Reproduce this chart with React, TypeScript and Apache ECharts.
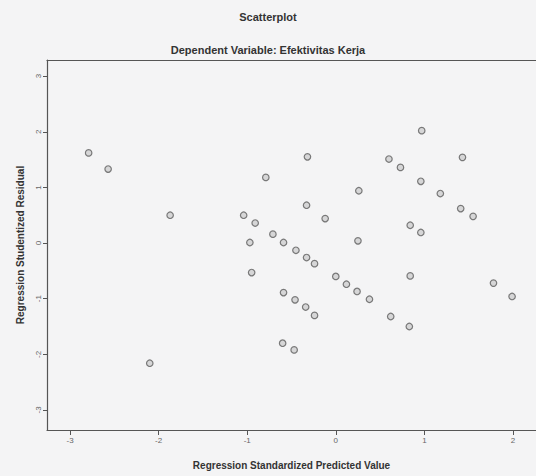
import React, { useEffect, useRef } from "react";
import * as echarts from "echarts";

const xValues = [
  -2.79, -2.57, -1.87, -2.10, -1.04, -0.91, -0.79, -0.71, -0.97, -0.95,
  -0.59, -0.45, -0.33, -0.24, -0.33, -0.32, -0.12, 0.26, 0.25, 0.0,
  0.12, 0.24, 0.38, -0.59, -0.46, -0.34, -0.24, -0.60, -0.47, 0.97,
  0.60, 0.73, 1.43, 0.96, 1.18, 1.41, 1.55, 0.84, 0.96, 0.84,
  1.78, 1.99, 0.62, 0.83,
];
const yValues = [
  1.62, 1.33, 0.50, -2.16, 0.50, 0.36, 1.18, 0.16, 0.01, -0.53,
  0.01, -0.13, -0.26, -0.37, 0.68, 1.55, 0.44, 0.94, 0.04, -0.60,
  -0.74, -0.87, -1.01, -0.89, -1.02, -1.15, -1.30, -1.80, -1.92, 2.02,
  1.51, 1.36, 1.54, 1.11, 0.89, 0.62, 0.48, 0.32, 0.19, -0.59,
  -0.72, -0.96, -1.32, -1.50,
];
const xTicks = [-3, -2, -1, 0, 1, 2];
const yTicks = [-3, -2, -1, 0, 1, 2, 3];

const titleText = "Scatterplot";
const subtitleText = "Dependent Variable: Efektivitas Kerja";
const xName = "Regression Standardized Predicted Value";
const yName = "Regression Studentized Residual";

export default function App() {
  const ref = useRef<HTMLDivElement>(null);
  useEffect(() => {
    document.body.style.margin = "0";
    const chart = echarts.init(ref.current!, undefined, { renderer: "svg" });
    const font = "'Liberation Sans', Arial, sans-serif";
    const data = xValues.map((x, i) => [x, yValues[i]]);
    chart.setOption({
      animation: false,
      backgroundColor: "#f4f4f5",
      title: [
        {
          text: titleText,
          left: "center",
          top: 6,
          textStyle: { fontFamily: font, fontSize: 11, fontWeight: "bold", color: "#333" },
        },
        {
          text: subtitleText,
          left: "center",
          top: 39,
          textStyle: { fontFamily: font, fontSize: 11, fontWeight: "bold", color: "#333" },
        },
      ],
      grid: { left: 47, top: 60, right: 0, bottom: 46, containLabel: false },
      xAxis: [
        {
          type: "value",
          min: -3.26,
          max: 2.26,
          name: xName,
          nameLocation: "middle",
          nameGap: 30,
          nameTextStyle: { fontFamily: font, fontSize: 10, fontWeight: "bold", color: "#333" },
          axisLine: { show: true, onZero: false, lineStyle: { color: "#555", width: 1.2 } },
          axisTick: { show: true, length: 5, customValues: xTicks, lineStyle: { color: "#555" } },
          axisLabel: { customValues: xTicks, fontFamily: font, fontSize: 8, color: "#666", margin: 6 },
          splitLine: { show: false },
        },
        {
          type: "value",
          position: "top",
          min: -3.26,
          max: 2.26,
          axisLine: { show: true, onZero: false, lineStyle: { color: "#555", width: 1.2 } },
          axisTick: { show: false },
          axisLabel: { show: false },
          splitLine: { show: false },
        },
      ],
      yAxis: {
        type: "value",
        min: -3.36,
        max: 3.29,
        name: yName,
        nameLocation: "middle",
        nameGap: 22,
        nameRotate: 90,
        nameTextStyle: { fontFamily: font, fontSize: 10, fontWeight: "bold", color: "#333" },
        axisLine: { show: true, onZero: false, lineStyle: { color: "#555", width: 1.2 } },
        axisTick: { show: true, length: 4, customValues: yTicks, lineStyle: { color: "#555" } },
        axisLabel: { customValues: yTicks, rotate: 90, fontFamily: font, fontSize: 8, color: "#666", margin: 5 },
        splitLine: { show: false },
      },
      series: [
        {
          type: "scatter",
          xAxisIndex: 0,
          data,
          symbol: "circle",
          symbolSize: 6.5,
          itemStyle: { color: "rgba(190,190,190,0.7)", borderColor: "#5c5c5c", borderWidth: 1.2 },
        },
      ],
    });
    return () => chart.dispose();
  }, []);
  return <div ref={ref} style={{ width: 536, height: 476 }} />;
}
